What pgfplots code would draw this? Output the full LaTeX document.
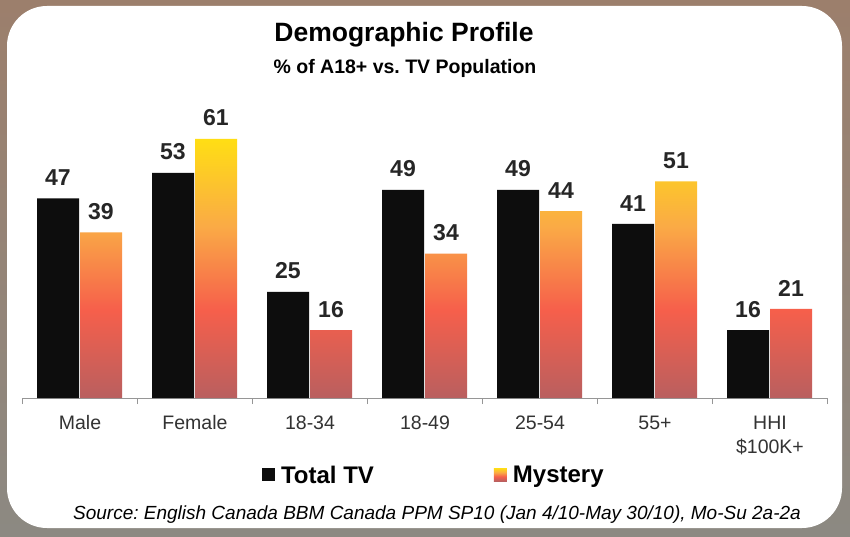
\documentclass[border=0pt]{standalone}
\usepackage{pgfplots}
\pgfplotsset{compat=1.18}
\usepackage{fontspec}
\setmainfont{Liberation Sans}
\frenchspacing
\definecolor{bgtop}{RGB}{156,127,108}
\definecolor{bgbot}{RGB}{140,137,130}
\definecolor{axgray}{RGB}{150,150,150}
\definecolor{sYel}{RGB}{255,222,20}
\definecolor{sOra}{RGB}{250,170,70}
\definecolor{sRed}{RGB}{246,95,75}
\definecolor{sBot}{RGB}{185,95,95}
\pgfdeclareverticalshading{barshade}{100bp}{color(0bp)=(sBot); color(25bp)=(sBot); color(42bp)=(sRed); color(58bp)=(sOra); color(75bp)=(sYel); color(100bp)=(sYel)}
\pgfplotstableread{
x tv my
0 47 39
1 53 61
2 25 16
3 49 34
4 49 44
5 41 51
6 16 21
}\datatable
\begin{document}
\begin{tikzpicture}[x=1pt,y=1pt]
\shade[top color=bgtop,bottom color=bgbot] (0,0) rectangle (850,536);
\fill[white,rounded corners=40pt] (7,8) rectangle (842,530);
\node[font=\bfseries\fontsize{26.5}{30}\selectfont] at (404,501) {Demographic Profile};
\node[font=\bfseries\fontsize{19.5}{22}\selectfont] at (405,468) {\% of A18+ vs. TV Population};
\node[font=\itshape\fontsize{19}{22}\selectfont] at (437,21) {Source: English Canada BBM Canada PPM SP10 (Jan 4/10-May 30/10), Mo-Su 2a-2a};
\begin{axis}[
  at={(22.5pt,138pt)}, anchor=south west,
  scale only axis, width=805pt, height=276.25pt,
  xmin=-0.5, xmax=6.5, ymin=0, ymax=65,
  /pgf/number format/assume math mode=true,
  axis x line=bottom, axis y line=none,
  axis line style={-, draw=axgray},
  ytick=\empty,
  xtick={0,...,6},
  xticklabels={Male,Female,18-34,18-49,25-54,55+,{HHI\\\$100K+}},
  major x tick style={draw=none},
  minor xtick={-0.5,0.5,...,6.5},
  minor x tick style={draw=axgray},
  minor tick length=6pt,
  tick align=outside,
  xticklabel style={font=\fontsize{19.5}{24}\selectfont, align=center, text=black!80, yshift=-10pt},
  ybar, bar width=42pt,
  nodes near coords,
  every node near coord/.append style={font=\bfseries\fontsize{23}{26}\selectfont, text=black!85, yshift=9pt},
  legend style={at={(0.511,-0.279)}, anchor=center, draw=none, fill=none,
    legend columns=2, font=\bfseries\fontsize{24}{28}\selectfont,
    /tikz/every even column/.append style={column sep=118pt},
    /tikz/every odd column/.append style={column sep=4pt}},
  legend image code/.code={\path[#1] (0pt,-6pt) rectangle (13pt,7pt);},
]
\addplot[draw=none, fill=black!95, bar shift=-22pt] table[x=x,y=tv]{\datatable};
\addlegendentry{Total TV}
\addplot[draw=none, shade, shading=barshade, bar shift=21pt] table[x=x,y=my]{\datatable};
\addlegendentry{Mystery}
\end{axis}
\end{tikzpicture}
\end{document}
